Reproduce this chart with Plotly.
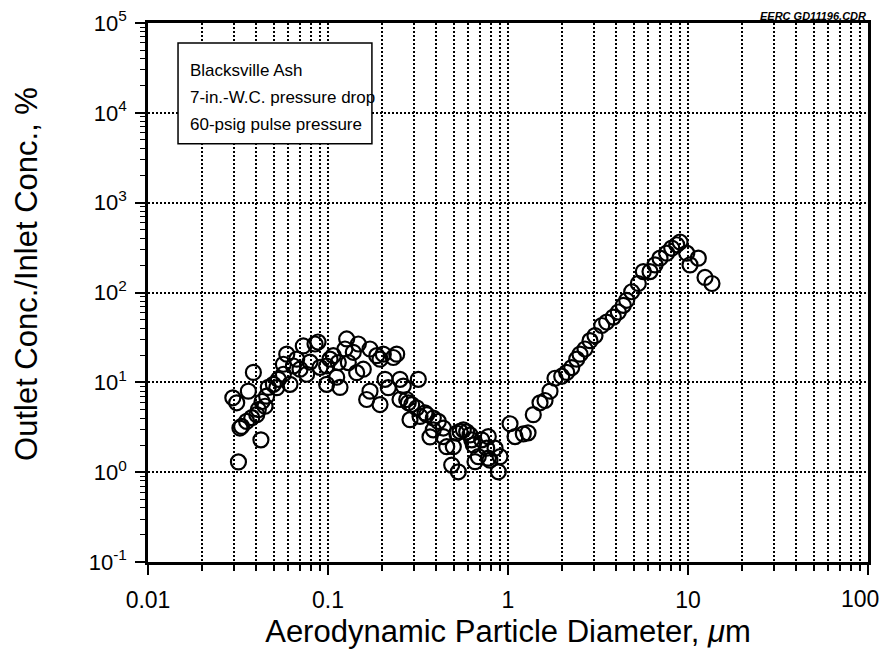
import plotly.graph_objects as go

# Aerodynamic particle diameter (um) and outlet/inlet concentration (%)
diameter_um = [
    0.0296, 0.0311, 0.0318, 0.0324, 0.0331, 0.0353, 0.0361, 0.0377, 0.0385, 0.0402,
    0.0410, 0.0424, 0.0430, 0.0447, 0.0456, 0.0466, 0.0497, 0.0519, 0.0530, 0.0565,
    0.0565, 0.0590, 0.0615, 0.0642, 0.0670, 0.0699, 0.0729, 0.0761, 0.0794, 0.0847,
    0.0880, 0.0903, 0.0983, 0.0983, 0.1026, 0.107, 0.1118, 0.1141, 0.1166, 0.1243,
    0.127, 0.1297, 0.1382, 0.1443, 0.1474, 0.1571, 0.164, 0.1711, 0.1711, 0.1865,
    0.1945, 0.1945, 0.2029, 0.2074, 0.2163, 0.2306, 0.2408, 0.2512, 0.2512, 0.262,
    0.2737, 0.2793, 0.2917, 0.2855, 0.311, 0.3175, 0.3244, 0.3459, 0.3535, 0.3687,
    0.3846, 0.3846, 0.41, 0.4372, 0.4372, 0.4565, 0.4867, 0.4967, 0.5188, 0.5297,
    0.5413, 0.5646, 0.5897, 0.615, 0.6285, 0.6416, 0.6557, 0.6839, 0.7144, 0.7614,
    0.7773, 0.7773, 0.7943, 0.8472, 0.8836, 0.9028, 1.026, 1.094, 1.216, 1.292,
    1.382, 1.506, 1.606, 1.711, 1.824, 1.988, 2.119, 2.259, 2.408, 2.512,
    2.678, 2.855, 3.043, 3.316, 3.534, 3.846, 4.10, 4.372, 4.565, 4.867,
    5.297, 5.646, 6.15, 6.557, 6.99, 7.614, 8.118, 8.655, 9.028, 9.836,
    10.26, 11.41, 12.43, 13.59,
]
conc_ratio_pct = [
    6.73, 5.92, 1.30, 3.10, 3.23, 3.67, 7.98, 4.04, 12.9, 4.37,
    4.97, 2.29, 6.12, 5.42, 7.02, 8.79, 9.50, 8.72, 10.8, 12.3,
    15.9, 20.6, 9.50, 15.2, 18.1, 14.0, 25.4, 12.3, 16.8, 26.7,
    28.1, 14.7, 9.50, 15.2, 18.1, 19.8, 11.4, 16.6, 8.79, 23.5,
    30.4, 16.6, 21.6, 12.8, 26.7, 14.0, 6.44, 23.5, 7.98, 19.8,
    18.1, 5.66, 20.6, 10.8, 8.72, 18.9, 20.6, 10.8, 6.44, 9.09,
    6.44, 5.92, 5.66, 3.84, 5.20, 10.8, 4.18, 4.57, 4.37, 2.47,
    4.01, 2.96, 3.67, 3.10, 2.49, 1.92, 1.20, 1.92, 2.72, 1.01,
    2.84, 2.96, 2.81, 2.60, 2.29, 2.01, 1.31, 1.49, 2.29, 1.85,
    2.49, 1.43, 1.36, 1.85, 1.01, 1.49, 3.46, 2.49, 2.67, 2.74,
    4.37, 5.92, 6.28, 7.98, 11.1, 11.7, 12.9, 14.6, 18.1, 20.6,
    23.5, 29.1, 33.1, 42.9, 46.9, 53.3, 60.7, 72.0, 81.9, 102,
    126, 171, 171, 203, 241, 274, 312, 340, 365, 274,
    203, 241, 147, 126,
]

x_tick_vals = [0.01, 0.1, 1, 10, 100]
x_tick_text = ["0.01", "0.1", "1", "10", ""]   # last label drawn separately so it stays inside the page
x_last_label = "100"
y_tick_vals = [0.1, 1, 10, 100, 1000, 10000, 100000]
y_tick_text = ["10<sup>-1</sup>", "10<sup>0</sup>", "10<sup>1</sup>", "10<sup>2</sup>",
               "10<sup>3</sup>", "10<sup>4</sup>", "10<sup>5</sup>"]

legend_lines = ["Blacksville Ash", "7-in.-W.C. pressure drop", "60-psig pulse pressure"]

FONT = "Liberation Sans, Arial, Helvetica, sans-serif"

fig = go.Figure()
fig.add_trace(go.Scatter(
    x=diameter_um, y=conc_ratio_pct, mode="markers",
    marker=dict(symbol="circle-open", size=15, color="black", line=dict(width=2.2)),
    showlegend=False,
))

grid_common = dict(gridcolor="black", griddash="2px,2px", gridwidth=2)

fig.update_xaxes(
    type="log", range=[-2, 2], automargin=False, ticklabeloverflow="allow",
    tickvals=x_tick_vals, ticktext=x_tick_text,
    ticks="outside", ticklen=10, tickwidth=2, tickcolor="black",
    ticklabelstandoff=6,
    showline=True, linewidth=2.5, linecolor="black", mirror=True,
    showgrid=True, **grid_common,
    minor=dict(dtick="D1", ticks="outside", ticklen=6, tickwidth=1.5, tickcolor="black",
               showgrid=True, **grid_common),
    zeroline=False,
    tickfont=dict(family=FONT, size=23, color="black"),
    title=dict(text="Aerodynamic Particle Diameter, <i>\u03bc</i>m",
               font=dict(family=FONT, size=31, color="black"), standoff=8),
)
fig.update_yaxes(
    type="log", range=[-1, 5], automargin=False, ticklabeloverflow="allow",
    tickvals=y_tick_vals, ticktext=y_tick_text,
    ticks="outside", ticklen=10, tickwidth=2, tickcolor="black",
    ticklabelstandoff=4,
    showline=True, linewidth=2.5, linecolor="black", mirror=True,
    showgrid=True, **grid_common,
    minor=dict(dtick="D1", ticks="outside", ticklen=5, tickwidth=1.2, tickcolor="black",
               showgrid=False),
    zeroline=False,
    tickfont=dict(family=FONT, size=22, color="black"),
)

# last x tick label, nudged left so it is not clipped at the page edge
fig.add_annotation(
    xref="paper", yref="paper", x=1.0, y=0.0, xanchor="right", yanchor="top",
    xshift=13, yshift=-22, text=x_last_label, showarrow=False,
    font=dict(family=FONT, size=23, color="black"),
)

# y-axis title (placed as rotated text so it can sit slightly above centre, as in the original)
fig.add_annotation(
    xref="paper", yref="paper", x=-0.169, y=0.535, xanchor="center", yanchor="middle",
    text="Outlet Conc./Inlet Conc., %", textangle=-90, showarrow=False,
    font=dict(family=FONT, size=31, color="black"),
)

# legend-style text box
fig.add_shape(
    type="rect", xref="paper", yref="paper", x0=0.0417, x1=0.311, y0=0.776, y1=0.963,
    line=dict(color="black", width=1.5), fillcolor="white", layer="above",
)
for line_text, y_pos in zip(legend_lines, [0.911, 0.861, 0.811]):
    fig.add_annotation(
        xref="paper", yref="paper", x=0.0556, y=y_pos, xanchor="left", yanchor="middle",
        text=line_text, showarrow=False, align="left",
        font=dict(family=FONT, size=17, color="black"),
    )

fig.add_annotation(
    xref="paper", yref="paper", x=1.0, y=1.0, xanchor="right", yanchor="bottom",
    text="<b><i><u>EERC GD11196.CDR</u></i></b>", showarrow=False,
    font=dict(family=FONT, size=11, color="black"), yshift=-1,
)

# The page body adds an 8px offset; margins are set so the plot lands where the original's does
fig.update_layout(
    width=889, height=671,
    margin=dict(l=140, r=29, t=15, b=117),
    paper_bgcolor="white", plot_bgcolor="white",
    font=dict(family=FONT, color="black"),
)

fig.write_html("out.html")
